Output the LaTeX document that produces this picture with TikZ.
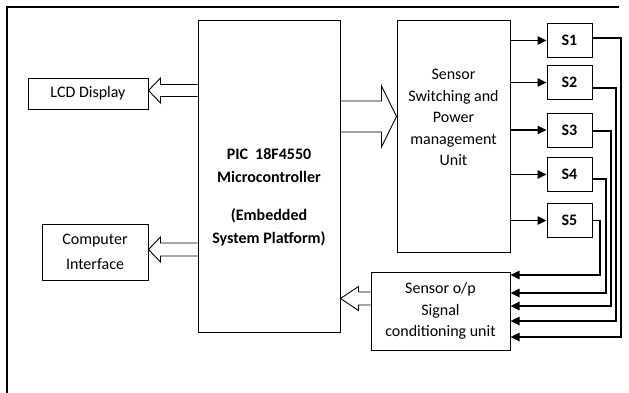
\documentclass[tikz,border=0pt]{standalone}
\usepackage{fontspec}
\setmainfont{Carlito}
\usetikzlibrary{calc,arrows.meta}
\tikzset{box/.style={draw,line width=1pt,inner sep=0pt,align=center,
   font=\fontsize{16}{21.5}\selectfont},
 boxtext/.style={align=center,inner sep=0pt,font=\fontsize{16}{21.5}\selectfont},
 sbox/.style={box,minimum width=45pt,minimum height=34pt,font=\fontsize{16}{18}\selectfont\bfseries},
 sig/.style={line width=1.1pt,-{Triangle[length=9pt,width=8.5pt]}},
 fat/.style={draw,line width=0.9pt,line join=miter},
 }
\newcommand{\fatarrow}[5]{%
  \path ($(#2)!#5!(#1)$) coordinate (fah);
  \draw[fat] ($(#1)!#3!90:(#2)$) -- ($(fah)!#3!90:(#2)$) -- ($(fah)!#4!90:(#2)$)
    -- (#2) -- ($(fah)!#4!-90:(#2)$) -- ($(fah)!#3!-90:(#2)$) -- ($(#1)!#3!-90:(#2)$);}

\begin{document}
\begin{tikzpicture}[x=1pt,y=-1pt]
    \useasboundingbox (0,0) rectangle (629,392);
    \draw[line width=2pt] (619,7) -- (7,7) -- (7,393);
    \node[box,minimum width=142pt,minimum height=312pt] (pic) at (269,176) {};
    \node[boxtext,font=\fontsize{16}{23}\selectfont\bfseries] (pictext) at (269,197)
        {PIC\ \ 18F4550\\Microcontroller\\[15pt](Embedded\\System Platform)};
    \node[box,minimum width=120pt,minimum height=31pt] (lcd) at (88,93.5) {LCD Display};
    \node[box,minimum width=106pt,minimum height=56pt,font=\fontsize{16}{25}\selectfont]
        (comp) at (95,252) {Computer\\Interface};
    \node[box,minimum width=113pt,minimum height=232pt] (sw) at (453.5,136) {};
    \node[boxtext] (swtext) at (453.5,117.5)
        {Sensor\\Switching and\\Power\\management\\Unit};
    \node[box,minimum width=139pt,minimum height=78pt] (cond) at (440.5,311)
        {Sensor o/p\\Signal\\conditioning unit};
    \foreach \n/\y in {1/40.5,2/82.5,3/130,4/174.5,5/220.5}
        \node[sbox] (S\n) at (569.5,\y) {S\n};
    \foreach \n in {1,...,5}
        \draw[sig] (sw.east |- S\n.west) -- (S\n.west);
    \foreach \n/\x/\y/\d in {1/621/337/2.5,2/616/321/-5.5,3/611/306/-1,4/606/293/-4.5,5/600/275/0}
    {
        \coordinate (r\n) at (\x,\y);
        \draw[sig] ([yshift=\d pt]S\n.east) -| (r\n) -- (cond.east |- r\n);
    }
    \coordinate (alcd) at (170,90.5);
    \coordinate (acomp) at (170,249.5);
    \coordinate (asw) at (370,116.5);
    \coordinate (acond) at (360,298.5);
    \fatarrow{pic.west |- alcd}{lcd.east |- alcd}{6pt}{12.5pt}{12pt}
    \fatarrow{pic.west |- acomp}{comp.east |- acomp}{6.5pt}{12.5pt}{12pt}
    \fatarrow{pic.east |- asw}{sw.west |- asw}{15.5pt}{30.5pt}{15pt}
    \fatarrow{cond.west |- acond}{pic.east |- acond}{6.5pt}{12pt}{18pt}
\end{tikzpicture}
\end{document}
